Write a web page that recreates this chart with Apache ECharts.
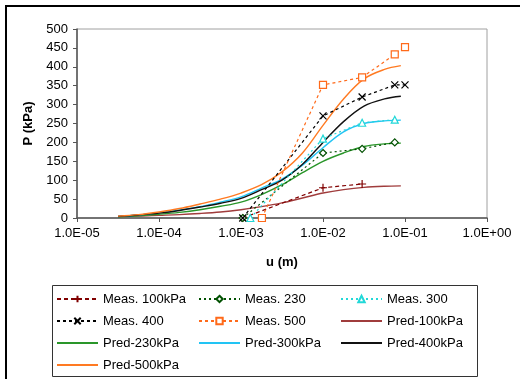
<!DOCTYPE html>
<html><head><meta charset="utf-8">
<script src="https://cdn.jsdelivr.net/npm/echarts@6/dist/echarts.min.js"></script>
<style>html,body{margin:0;padding:0;background:#fff}#c{width:520px;height:379px}</style>
</head><body><div id="c"></div>
<script>
// ---- data ----
const measU100 = [0.00105, 0.01, 0.03];
const measP100 = [0, 80, 90];
const measU230 = [0.00105, 0.01, 0.03, 0.075];
const measP230 = [0, 172, 183, 200];
const measU300 = [0.0013, 0.01, 0.03, 0.075];
const measP300 = [0, 210, 252, 260];
const measU400 = [0.00105, 0.01, 0.03, 0.075, 0.1];
const measP400 = [0, 270, 320, 352, 352];
const measU500 = [0.0018, 0.01, 0.03, 0.075, 0.1];
const measP500 = [0, 352, 372, 433, 452];

const predU = [3.16e-5, 5.62e-5, 1.0e-4, 1.78e-4, 3.16e-4, 5.62e-4, 1.0e-3, 1.78e-3, 3.16e-3, 5.62e-3, 1.0e-2, 1.78e-2, 3.16e-2, 5.62e-2, 8.9e-2];
const pred100 = [4, 5, 7, 9, 12, 16, 22, 30, 40, 53, 66, 75, 81, 84, 85];
const pred230 = [3, 6, 10, 15, 22, 31, 42, 62, 88, 120, 150, 172, 189, 196, 198];
const pred300 = [4, 8, 14, 21, 30, 42, 56, 79, 103, 140, 186, 228, 250, 257, 259];
const pred400 = [4, 8, 13, 20, 29, 39, 52, 75, 100, 142, 200, 255, 296, 315, 322];
const pred500 = [5, 9, 16, 25, 37, 50, 66, 88, 122, 172, 245, 315, 368, 393, 403];

const xTickMin = 1e-5, xTickMax = 1;
const yMin = 0, yMax = 500, yStep = 50;

const legendCol1 = ['Meas. 100kPa', 'Meas. 400', 'Pred-230kPa', 'Pred-500kPa'];
const legendCol2 = ['Meas. 230', 'Meas. 500', 'Pred-300kPa'];
const legendCol3 = ['Meas. 300', 'Pred-100kPa', 'Pred-400kPa'];

// ---- helpers ----
const zip = (xs, ys) => xs.map((x, i) => [x, ys[i]]);
const FONT = '"Liberation Sans", Arial, sans-serif';
function fmtE(v) {
  const e = Math.round(Math.log10(v));
  const m = v / Math.pow(10, e);
  return m.toFixed(1) + 'E' + (e < 0 ? '-' : '+') + String(Math.abs(e)).padStart(2, '0');
}
function meas(name, u, p, color, symbol, size, dash, fill) {
  return {
    name, type: 'line', data: zip(u, p), symbol, symbolSize: size,
    lineStyle: { color, width: 1.2, type: dash },
    itemStyle: { color: fill, borderColor: color, borderWidth: 1.2 },
    z: 3
  };
}
function pred(name, vals, color) {
  return {
    name, type: 'line', data: zip(predU, vals), symbol: 'none', smooth: 0.35,
    lineStyle: { color, width: 1.4 }, itemStyle: { color }, z: 2
  };
}
const plusPath = 'path://M0,5L10,5M5,0L5,10';
const crossPath = 'path://M0,0L10,10M10,0L0,10';

function legend(left, names) {
  return {
    orient: 'vertical', left, top: 292, padding: 0, itemGap: 8,
    itemWidth: 41, itemHeight: 8,
    textStyle: { fontFamily: FONT, fontSize: 13, color: '#000', lineHeight: 14 },
    data: names.map(n => n.startsWith('Pred')
      ? { name: n, itemStyle: { opacity: 0 } }
      : { name: n })
  };
}

const chart = echarts.init(document.getElementById('c'), null, { renderer: 'canvas' });
chart.setOption({
  animation: false,
  backgroundColor: '#fff',
  textStyle: { fontFamily: FONT },
  grid: { left: 77, top: 29, right: 33, bottom: 161, show: true, borderColor: '#a0a0a0', borderWidth: 1 },
  xAxis: {
    type: 'log', logBase: 10, min: xTickMin, max: xTickMax,
    name: 'u (m)', nameLocation: 'middle', nameGap: 38,
    nameTextStyle: { fontFamily: FONT, fontSize: 13, fontWeight: 'bold', color: '#000' },
    axisLine: { lineStyle: { color: '#555', width: 1.5 } },
    axisTick: { show: true, length: 4, lineStyle: { color: '#555' } },
    axisLabel: { formatter: fmtE, fontFamily: FONT, fontSize: 13, color: '#000', margin: 9 },
    splitLine: { show: false }, minorTick: { show: false }
  },
  yAxis: {
    type: 'value', min: yMin, max: yMax, interval: yStep,
    name: 'P (kPa)', nameLocation: 'middle', nameGap: 42,
    nameTextStyle: { fontFamily: FONT, fontSize: 13, fontWeight: 'bold', color: '#000' },
    axisLine: { show: true, lineStyle: { color: '#555', width: 1.5 } },
    axisTick: { show: true, length: 4, lineStyle: { color: '#555' } },
    axisLabel: { fontFamily: FONT, fontSize: 13, color: '#000', margin: 9 },
    splitLine: { show: false }
  },
  legend: [legend(56, legendCol1), legend(198, legendCol2), legend(340, legendCol3)],
  graphic: [
    { type: 'rect', shape: { x: 6, y: 6, width: 700, height: 700 }, style: { fill: 'none', stroke: '#000', lineWidth: 2 }, silent: true },
    { type: 'rect', shape: { x: 52.5, y: 285.5, width: 425, height: 91 }, style: { fill: 'none', stroke: '#333', lineWidth: 1 }, silent: true }
  ],
  series: [
    meas('Meas. 100kPa', measU100, measP100, '#800000', plusPath, 8, [4, 3], 'none'),
    meas('Meas. 230', measU230, measP230, '#005000', 'diamond', 7, [2, 3], '#fff'),
    meas('Meas. 300', measU300, measP300, '#22d8d8', 'triangle', 7, [2, 3], '#fff'),
    meas('Meas. 400', measU400, measP400, '#000000', crossPath, 7, [3, 3], 'none'),
    meas('Meas. 500', measU500, measP500, '#ff6a1a', 'rect', 7, [3, 3], '#fff'),
    pred('Pred-100kPa', pred100, '#a03c3c'),
    pred('Pred-230kPa', pred230, '#2a962a'),
    pred('Pred-300kPa', pred300, '#22c4f4'),
    pred('Pred-400kPa', pred400, '#111111'),
    pred('Pred-500kPa', pred500, '#ff7a22')
  ]
});
</script>
</body></html>
